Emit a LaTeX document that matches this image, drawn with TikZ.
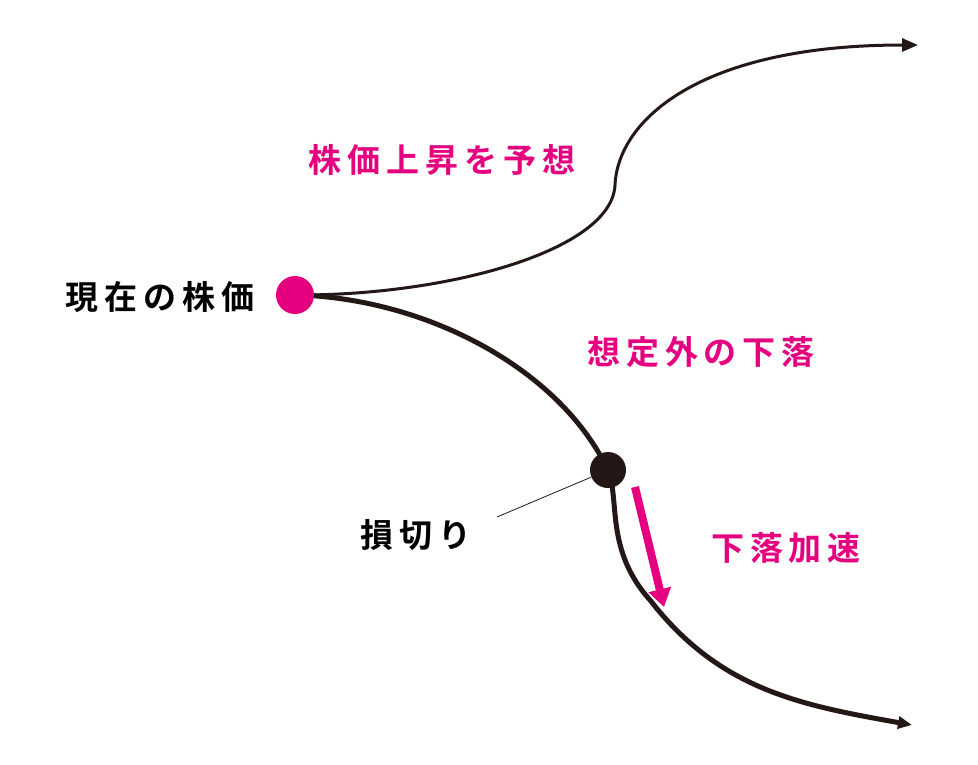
\documentclass[tikz,border=0pt]{standalone}
\usepackage{fontspec}
\newfontfamily\cjk[LetterSpace=18]{Noto Sans CJK JP Bold}
\usetikzlibrary{arrows.meta}
\definecolor{mag}{HTML}{E4007F}
\definecolor{ink}{HTML}{231815}
\begin{document}
\begin{tikzpicture}[x=1pt,y=-1pt,
  lab/.style={font=\cjk\fontsize{33}{33}\selectfont},
  maglab/.style={lab,text=mag}]
\useasboundingbox[fill=white] (0,0) rectangle (978,764);
\coordinate (s) at (300,295);
\coordinate (e1) at (918,45);
\coordinate (e2) at (912,725);
\node[circle,fill=ink,minimum size=36pt,inner sep=0] (b) at (608,470) {};
\draw[ink,line width=3pt,-{Triangle[length=16pt,width=13pt]}] (s) .. controls (450,295) and (612,250) .. (615,185)
  .. controls (618,120) and (700,45) .. (e1);
\draw[ink,line width=5pt] (s) .. controls (430,300) and (560,370) .. (b.center);
\draw[ink,line width=5pt,-{Triangle[length=14pt,width=12pt]}] (b.center) .. controls (620,500) and (605,550) .. (650,600)
  .. controls (720,690) and (800,705) .. (e2);
\node[circle,fill=mag,minimum size=38pt,inner sep=0] (a) at (295,295) {};
\node[lab] (t1) at (160,297) {現在の株価};
\node[maglab] (t2) at (442,160) {株価上昇を予想};
\node[maglab] (t3) at (701,352) {想定外の下落};
\node[lab] (t4) at (416,535) {損切り};
\node[maglab] (t5) at (786,548) {下落加速};
\coordinate (l1) at (497,517);
\draw[ink,line width=0.8pt] (l1) -- (b);
\coordinate (m1) at (635,487);
\coordinate (m2) at (664,607);
\draw[mag,line width=8pt,-{Triangle[length=18pt,width=22pt]}] (m1) -- (m2);
\end{tikzpicture}
\end{document}
